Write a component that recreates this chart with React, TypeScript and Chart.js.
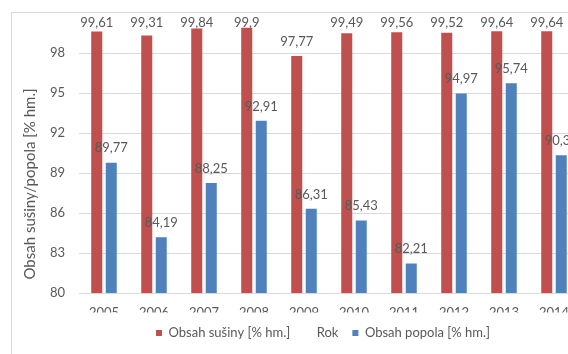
import React, { useEffect, useRef } from "react";
import { Chart, registerables } from "chart.js";

Chart.register(...registerables);

const years = ["2005", "2006", "2007", "2008", "2009", "2010", "2011", "2012", "2013", "2014"];
const susina = [99.61, 99.31, 99.84, 99.9, 97.77, 99.49, 99.56, 99.52, 99.64, 99.64];
const popol = [89.77, 84.19, 88.25, 92.91, 86.31, 85.43, 82.21, 94.97, 95.74, 90.33];
const yTicks = [80, 83, 86, 89, 92, 95, 98];
const seriesNames = ["Obsah sušiny [% hm.]", "Obsah popola [% hm.]"];
const seriesColors = ["#C0504D", "#4F81BD"];
const xTitle = "Rok";
const yTitle = "Obsah sušiny/popola [% hm.]";

const FONT = "Lato";
const TEXT = "#595959";
const GRID = "#D9D9D9";

const fmt = (v: number) => String(v).replace(".", ",");

const dataLabelPlugin = {
  id: "dataLabels",
  afterDatasetsDraw(chart: any) {
    const { ctx, chartArea } = chart;
    ctx.save();
    ctx.font = `13px ${FONT}`;
    ctx.fillStyle = TEXT;
    ctx.textAlign = "center";
    ctx.textBaseline = "middle";
    chart.data.datasets.forEach((ds: any, i: number) => {
      const meta = chart.getDatasetMeta(i);
      meta.data.forEach((el: any, j: number) => {
        const y = Math.max(el.y - 14.5, chartArea.top + 6);
        ctx.fillText(fmt(ds.data[j]), el.x, y);
      });
    });
    ctx.restore();
  },
};

const yTitlePlugin = {
  id: "yTitle",
  afterDraw(chart: any) {
    const { ctx, chartArea } = chart;
    ctx.save();
    ctx.font = `15px ${FONT}`;
    ctx.fillStyle = TEXT;
    ctx.textAlign = "center";
    ctx.textBaseline = "middle";
    ctx.translate(chartArea.left - 49, chartArea.bottom - 109);
    ctx.rotate(-Math.PI / 2);
    ctx.fillText(yTitle, 0, 0);
    ctx.restore();
  },
};

const legendShiftPlugin = {
  id: "legendShift",
  afterLayout(chart: any) {
    const lg = chart.legend;
    if (!lg) return;
    lg.left = chart.chartArea.left - 12;
    lg.right = chart.chartArea.right;
    lg.width = lg.right - lg.left;
  },
};

export default function App() {
  const ref = useRef<HTMLCanvasElement | null>(null);

  useEffect(() => {
    if (!ref.current) return;
    Chart.defaults.font.family = FONT;
    Chart.defaults.color = TEXT;
    const chart = new Chart(ref.current, {
      type: "bar",
      data: {
        labels: years,
        datasets: [
          {
            label: seriesNames[0],
            data: susina,
            backgroundColor: seriesColors[0],
            barPercentage: 0.76,
            categoryPercentage: 0.58,
          },
          {
            label: seriesNames[1],
            data: popol,
            backgroundColor: seriesColors[1],
            barPercentage: 0.76,
            categoryPercentage: 0.58,
          },
        ],
      },
      options: {
        animation: false,
        responsive: false,
        devicePixelRatio: 1,
        layout: { padding: { left: 0, top: 17, right: 0, bottom: 4.5 } },
        plugins: {
          tooltip: { enabled: false },
          legend: {
            position: "bottom",
            onClick: () => {},
            labels: {
              boxWidth: 6,
              boxHeight: 6,
              padding: 14,
              color: TEXT,
              font: { size: 13, family: FONT },
              generateLabels: (c: any) => {
                const items = c.data.datasets.map((ds: any, i: number) => ({
                  text: ds.label,
                  fillStyle: ds.backgroundColor,
                  strokeStyle: ds.backgroundColor,
                  lineWidth: 0,
                  hidden: false,
                  datasetIndex: i,
                  fontColor: TEXT,
                }));
                return [
                  items[0],
                  {
                    text: xTitle,
                    fillStyle: "rgba(0,0,0,0)",
                    strokeStyle: "rgba(0,0,0,0)",
                    lineWidth: 0,
                    hidden: false,
                    fontColor: TEXT,
                  },
                  items[1],
                ];
              },
            },
          },
        },
        scales: {
          x: {
            grid: { display: false, drawTicks: false },
            border: { display: false },
            ticks: { padding: 12, color: TEXT, font: { size: 13, family: FONT } },
            afterFit: (s: any) => {
              s.height = 19.5;
              s.paddingLeft = 0;
              s.paddingRight = 0;
            },
          },
          y: {
            min: 80,
            max: 100.7,
            afterBuildTicks: (s: any) => {
              s.ticks = yTicks.map((v) => ({ value: v }));
            },
            grid: { color: GRID, drawTicks: false },
            border: { display: false },
            ticks: { padding: 14, color: TEXT, font: { size: 13, family: FONT } },
            afterFit: (s: any) => {
              s.width = 79;
              s.paddingTop = 0;
              s.paddingBottom = 0;
            },
          },
        },
      },
      plugins: [dataLabelPlugin, yTitlePlugin, legendShiftPlugin],
    } as any);
    return () => chart.destroy();
  }, []);

  return (
    <div style={{ position: "fixed", left: 0, top: 0, right: 0, bottom: 0, overflow: "hidden", background: "#fff" }}>
      <div
        style={{
          position: "absolute",
          left: 11,
          top: 12,
          width: 700,
          height: 400,
          border: `1px solid ${GRID}`,
        }}
      />
      <canvas
        ref={ref}
        width={579}
        height={354}
        style={{ position: "absolute", left: 0, top: 0, width: 579, height: 354 }}
      />
    </div>
  );
}
